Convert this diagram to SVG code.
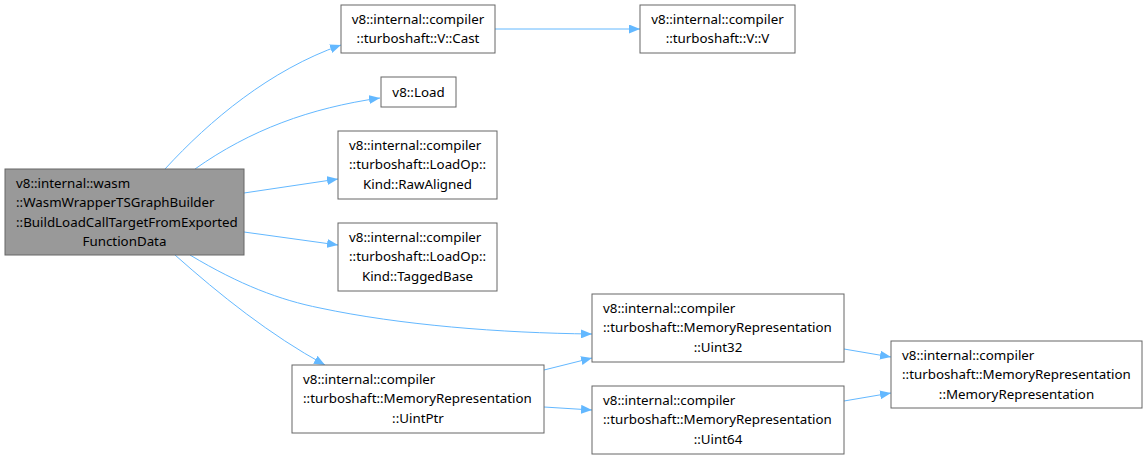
<svg xmlns="http://www.w3.org/2000/svg" width="1148" height="460" viewBox="0 0 1148 460">
<style>
.n rect{fill:#ffffff;stroke:#666666;stroke-width:1}
.n.root rect{fill:#999999}
text{font-family:"Noto Sans","DejaVu Sans",sans-serif;font-size:13.33px;fill:#000000}
.e path{fill:none;stroke:#63b8ff;stroke-width:1}
</style>
<defs>
<marker id="a" viewBox="0 0 11 9" refX="11" refY="4.5" markerWidth="11" markerHeight="9" markerUnits="userSpaceOnUse" orient="auto">
<path d="M0,0 L11,4.5 L0,9 Z" fill="#63b8ff" stroke="none"/>
</marker>
</defs>
<rect width="1148" height="460" fill="#ffffff"/>
<g class="e">
<path d="M165,169 C210,120 270,70 341,45" marker-end="url(#a)"/>
<path d="M195,169 C250,130 310,108 380,98" marker-end="url(#a)"/>
<path d="M244,193 L338,179" marker-end="url(#a)"/>
<path d="M244,232 L338,245" marker-end="url(#a)"/>
<path d="M190,255 C240,285 280,300 320,308 C400,325 500,333 592,334" marker-end="url(#a)"/>
<path d="M175,255 C220,295 270,335 325,365" marker-end="url(#a)"/>
<path d="M544,370 L592,358" marker-end="url(#a)"/>
<path d="M544,407 L592,410" marker-end="url(#a)"/>
<path d="M844,349 L891,357" marker-end="url(#a)"/>
<path d="M844,401 L891,393" marker-end="url(#a)"/>
<path d="M495,29 L640,29" marker-end="url(#a)"/>
</g>
<g id="node1" class="n root">
<rect x="5" y="169" width="239" height="86"/>
<text x="16" y="188">v8::internal::wasm</text>
<text x="16" y="207">::WasmWrapperTSGraphBuilder</text>
<text x="16" y="227">::BuildLoadCallTargetFromExported</text>
<text x="124.5" y="246" text-anchor="middle">FunctionData</text>
</g>
<g id="node2" class="n">
<rect x="341" y="5" width="154" height="48"/>
<text x="418" y="24" text-anchor="middle">v8::internal::compiler</text>
<text x="418" y="43" text-anchor="middle">::turboshaft::V::Cast</text>
</g>
<g id="node3" class="n">
<rect x="640" y="5" width="155" height="48"/>
<text x="717.5" y="24" text-anchor="middle">v8::internal::compiler</text>
<text x="717.5" y="43" text-anchor="middle">::turboshaft::V::V</text>
</g>
<g id="node4" class="n">
<rect x="381" y="77" width="75" height="30"/>
<text x="418.5" y="97" text-anchor="middle">v8::Load</text>
</g>
<g id="node5" class="n">
<rect x="338" y="131" width="159" height="68"/>
<text x="349" y="150">v8::internal::compiler</text>
<text x="349" y="169">::turboshaft::LoadOp::</text>
<text x="417.5" y="189" text-anchor="middle">Kind::RawAligned</text>
</g>
<g id="node6" class="n">
<rect x="338" y="223" width="159" height="68"/>
<text x="349" y="242">v8::internal::compiler</text>
<text x="349" y="261">::turboshaft::LoadOp::</text>
<text x="417.5" y="281" text-anchor="middle">Kind::TaggedBase</text>
</g>
<g id="node7" class="n">
<rect x="592" y="294" width="252" height="68"/>
<text x="603" y="313">v8::internal::compiler</text>
<text x="603" y="332">::turboshaft::MemoryRepresentation</text>
<text x="718" y="352" text-anchor="middle">::Uint32</text>
</g>
<g id="node8" class="n">
<rect x="891" y="341" width="251" height="67"/>
<text x="902" y="360">v8::internal::compiler</text>
<text x="902" y="379">::turboshaft::MemoryRepresentation</text>
<text x="1016.5" y="399" text-anchor="middle">::MemoryRepresentation</text>
</g>
<g id="node9" class="n">
<rect x="292" y="365" width="252" height="68"/>
<text x="303" y="384">v8::internal::compiler</text>
<text x="303" y="403">::turboshaft::MemoryRepresentation</text>
<text x="418" y="423" text-anchor="middle">::UintPtr</text>
</g>
<g id="node10" class="n">
<rect x="592" y="386" width="252" height="68"/>
<text x="603" y="405">v8::internal::compiler</text>
<text x="603" y="424">::turboshaft::MemoryRepresentation</text>
<text x="718" y="444" text-anchor="middle">::Uint64</text>
</g>
</svg>
